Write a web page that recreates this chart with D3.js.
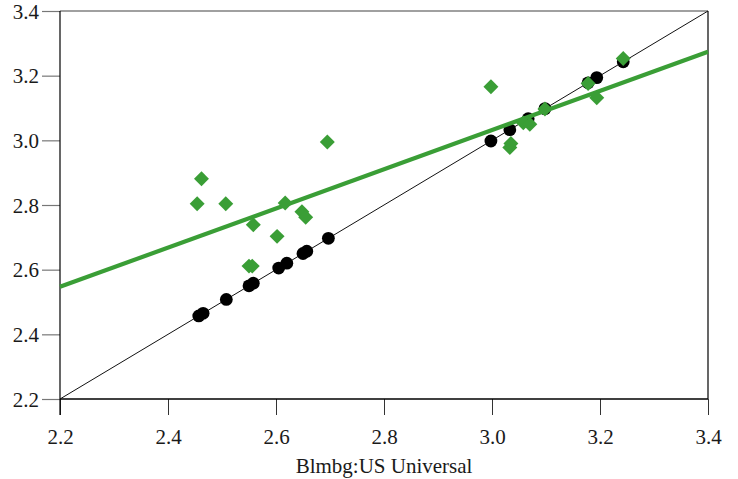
<!DOCTYPE html>
<html>
<head>
<meta charset="utf-8">
<script src="https://cdn.jsdelivr.net/npm/d3@7"></script>
<style>
  html, body { margin: 0; padding: 0; background: #fff; }
  svg { display: block; }
  svg text { font-family: "Liberation Serif", "Times New Roman", Times, "DejaVu Serif", serif !important; font-size: 21px !important; fill: #1a1a1a; }
</style>
</head>
<body>
<script>
// ---- data ----
const xTicks = [2.2, 2.4, 2.6, 2.8, 3.0, 3.2, 3.4];
const yTicks = [2.2, 2.4, 2.6, 2.8, 3.0, 3.2, 3.4];
const xTickLabels = ["2.2", "2.4", "2.6", "2.8", "3.0", "3.2", "3.4"];
const yTickLabels = ["2.2", "2.4", "2.6", "2.8", "3.0", "3.2", "3.4"];
const xTitle = "Blmbg:US Universal";

// black circles lie on the 45° line (x = y)
const circleValues = [2.457, 2.465, 2.508, 2.55, 2.558, 2.605, 2.62, 2.65, 2.657, 2.697,
                      2.998, 3.033, 3.067, 3.098, 3.178, 3.194, 3.243];

// green diamonds
const diamondX = [2.454, 2.462, 2.507, 2.55, 2.556, 2.558, 2.602, 2.617, 2.648, 2.655, 2.695,
                  2.998, 3.033, 3.035, 3.058, 3.07, 3.098, 3.178, 3.194, 3.243];
const diamondY = [2.804, 2.881, 2.804, 2.611, 2.611, 2.739, 2.703, 2.806, 2.779, 2.762, 2.995,
                  3.166, 2.978, 2.99, 3.054, 3.05, 3.097, 3.176, 3.132, 3.253];

// fitted green line endpoints
const fitX = [2.2, 3.4];
const fitY = [2.547, 3.274];

// ---- layout ----
const W = 738, H = 479;
const mLeft = 60, mRight = 708, mTop = 11, mBottom = 399;
const green = "#3a9e36";

const svg = d3.select("body").append("svg").attr("width", W).attr("height", H);

const x = d3.scaleLinear().domain([2.2, 3.4]).range([mLeft, mRight]);
const y = d3.scaleLinear().domain([2.2, 3.4]).range([mBottom, mTop]);

// frame: top gray, right black
svg.append("line").attr("x1", mLeft).attr("x2", mRight).attr("y1", mTop).attr("y2", mTop)
  .attr("stroke", "#808080").attr("stroke-width", 1.5);
svg.append("line").attr("x1", mRight).attr("x2", mRight).attr("y1", mTop).attr("y2", mBottom)
  .attr("stroke", "#000").attr("stroke-width", 1.2);

// x axis
const xAxis = d3.axisBottom(x).tickValues(xTicks).tickSize(16).tickPadding(6)
  .tickFormat((d, i) => xTickLabels[i]);
const gx = svg.append("g").attr("transform", `translate(0,${mBottom})`).call(xAxis)
  .attr("font-family", null).attr("font-size", null);
gx.select(".domain").remove();
gx.selectAll(".tick line").attr("stroke", "#333").attr("stroke-width", 1);
gx.selectAll(".tick text").attr("y", 45).attr("dy", 0);
svg.append("line").attr("x1", mLeft).attr("x2", mRight).attr("y1", mBottom).attr("y2", mBottom)
  .attr("stroke", "#000").attr("stroke-width", 1.3);

// y axis
const yAxis = d3.axisLeft(y).tickValues(yTicks).tickSize(18).tickPadding(3)
  .tickFormat((d, i) => yTickLabels[i]);
const gy = svg.append("g").attr("transform", `translate(${mLeft},0)`).call(yAxis)
  .attr("font-family", null).attr("font-size", null);
gy.select(".domain").remove();
gy.selectAll(".tick line").attr("stroke", "#777").attr("stroke-width", 1.2);
gy.selectAll(".tick text").attr("dy", 7);
svg.append("line").attr("x1", mLeft).attr("x2", mLeft).attr("y1", mTop).attr("y2", mBottom + 16)
  .attr("stroke", "#000").attr("stroke-width", 1.2);

// x title
svg.append("text").attr("x", 384).attr("y", 473)
  .attr("text-anchor", "middle").text(xTitle);

// 45-degree line
svg.append("line")
  .attr("x1", x(2.2)).attr("y1", y(2.2)).attr("x2", x(3.4)).attr("y2", y(3.4))
  .attr("stroke", "#111").attr("stroke-width", 1);

// black circles
svg.append("g").selectAll("circle").data(circleValues).join("circle")
  .attr("cx", d => x(d)).attr("cy", d => y(d)).attr("r", 6.4).attr("fill", "#000");

// fitted line
svg.append("line")
  .attr("x1", x(fitX[0])).attr("y1", y(fitY[0])).attr("x2", x(fitX[1])).attr("y2", y(fitY[1]))
  .attr("stroke", green).attr("stroke-width", 4.2);

// diamonds
const diamond = d3.symbol().type(d3.symbolSquare).size(112);
svg.append("g").selectAll("path").data(diamondX).join("path")
  .attr("d", diamond)
  .attr("transform", (d, i) => `translate(${x(d)},${y(diamondY[i])}) rotate(45)`)
  .attr("fill", green);
</script>
</body>
</html>
